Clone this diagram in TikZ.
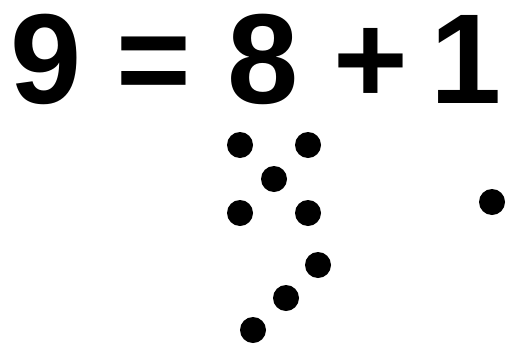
\documentclass[tikz,border=0pt]{standalone}
\usepackage{fontspec}
\setmainfont{Liberation Sans}
\tikzset{
  dot/.style={circle, fill=black, inner sep=0pt, minimum size=26pt},
  sumtext/.style={font=\fontsize{128pt}{150pt}\selectfont\bfseries, inner sep=0pt, anchor=base west}
}
\begin{document}
\begin{tikzpicture}[x=1pt, y=-1pt]
  \useasboundingbox (0,0) rectangle (508,343);

  % Rovnice
  \node[sumtext] (sum) at (10,103) {9 = 8 + \hspace{-14pt}1\hspace{-12pt}};

  % Osm teček
  \foreach \nm/\px/\py in {d1/240/145, d2/308/145, d3/274/179, d4/240/213,
                           d5/308/213, d6/318/265, d7/286/298, d8/253/330}
    \node[dot] (\nm) at (\px,\py) {};

  % Jedna tečka
  \node[dot] (e1) at (492,202) {};
\end{tikzpicture}
\end{document}
